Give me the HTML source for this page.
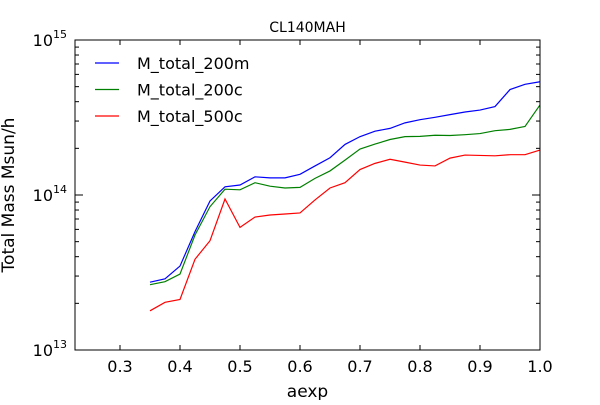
<!DOCTYPE html>
<html><head><meta charset="utf-8"><style>
body{margin:0;background:#fff;width:600px;height:400px;overflow:hidden}
svg{font-family:"DejaVu Sans","Liberation Sans",sans-serif}
</style></head><body>
<svg id="chart" width="600" height="400"></svg>
<script>
const aexp=[0.35,0.375,0.4,0.425,0.45,0.475,0.5,0.525,0.55,0.575,0.6,0.625,0.65,0.675,0.7,0.725,0.75,0.775,0.8,0.825,0.85,0.875,0.9,0.925,0.95,0.975,1.0];
// masses in units of 1e13 Msun/h
const m200m=[2.74,2.88,3.48,5.80,9.15,11.3,11.6,13.1,12.9,12.9,13.6,15.4,17.4,21.2,23.8,25.8,26.9,29.2,30.6,31.7,33.0,34.3,35.3,37.2,47.9,51.8,53.8];
const m200c=[2.64,2.76,3.09,5.52,8.41,10.9,10.8,12.0,11.4,11.1,11.2,12.8,14.3,16.8,19.8,21.3,22.8,23.8,23.9,24.3,24.2,24.5,24.9,26.0,26.5,27.7,38.1];
const m500c=[1.79,2.03,2.12,3.85,5.07,9.42,6.18,7.21,7.43,7.54,7.66,9.29,11.1,12.0,14.6,16.0,17.0,16.3,15.6,15.4,17.3,18.1,18.0,17.9,18.2,18.2,19.5];
const xTicks=[0.3,0.4,0.5,0.6,0.7,0.8,0.9,1.0];
const xTickLabels=["0.3","0.4","0.5","0.6","0.7","0.8","0.9","1.0"];
const yDecades=[13,14,15];
const seriesNames=["M_total_200m","M_total_200c","M_total_500c"];
const seriesColors=["#0000ff","#008000","#ff0000"];

const L=75,R=540,T=40,B=350,XMIN=0.225,XMAX=1.0,YMIN=13,YMAX=15;
const xs=v=>L+(v-XMIN)/(XMAX-XMIN)*(R-L);
const ys=m=>B-(Math.log10(m*1e13)-YMIN)/(YMAX-YMIN)*(B-T);
const NS="http://www.w3.org/2000/svg";
const svg=document.getElementById('chart');
function mk(tag,attrs,parent){const e=document.createElementNS(NS,tag);for(const k in attrs)e.setAttribute(k,attrs[k]);(parent||svg).appendChild(e);return e;}

// series
[m200m,m200c,m500c].forEach((arr,i)=>{
  const p=mk('polyline',{points:arr.map((v,j)=>xs(aexp[j])+','+ys(v)).join(' '),fill:'none',stroke:seriesColors[i],'stroke-width':1.2});
  
  
});

// frame
const fr=mk('rect',{x:L,y:T,width:R-L,height:B-T,fill:'none',stroke:'#000','stroke-width':1});



// x ticks
xTicks.forEach((v,i)=>{
  const x=xs(v);
  mk('line',{x1:x,x2:x,y1:B,y2:B-5,stroke:'#000'});
  mk('line',{x1:x,x2:x,y1:T,y2:T+5,stroke:'#000'});
  const t=mk('text',{x:x,y:B+22,'text-anchor':'middle','font-size':16});
  t.textContent=xTickLabels[i];
  
  
});
// y ticks
yDecades.forEach(d=>{
  const y=B-(d-YMIN)/(YMAX-YMIN)*(B-T);
  mk('line',{x1:L,x2:L+8,y1:y,y2:y,stroke:'#000'});
  mk('line',{x1:R,x2:R-8,y1:y,y2:y,stroke:'#000'});
  const t=mk('text',{x:L-8,y:y+6,'text-anchor':'end','font-size':16});
  t.innerHTML='10<tspan dy="-8" font-size="11">'+d+'</tspan>';
  
  
  if(d<YMAX){for(let k=2;k<10;k++){
    const yy=B-(d+Math.log10(k)-YMIN)/(YMAX-YMIN)*(B-T);
    mk('line',{x1:L,x2:L+4,y1:yy,y2:yy,stroke:'#000'});
    mk('line',{x1:R,x2:R-4,y1:yy,y2:yy,stroke:'#000'});
  }}
});

// legend
seriesNames.forEach((n,i)=>{
  const y=63+i*26.5;
  const g=mk('g',{});
  
  
  mk('line',{x1:95,x2:119,y1:y,y2:y,stroke:seriesColors[i],'stroke-width':1.2},g);
  const t=mk('text',{x:137,y:y+6,'font-size':16},g);
  t.textContent=n;
});

// titles
const ti=mk('text',{x:(L+R)/2,y:32,'text-anchor':'middle','font-size':14});
ti.textContent='CL140MAH';


const xl=mk('text',{x:(L+R)/2,y:397,'text-anchor':'middle','font-size':17});
xl.textContent='aexp';


const yl=mk('text',{x:14,y:(T+B)/2,'text-anchor':'middle','font-size':17,transform:'rotate(-90 14 '+((T+B)/2)+')'});
yl.textContent='Total Mass Msun/h';


</script>
</body></html>
